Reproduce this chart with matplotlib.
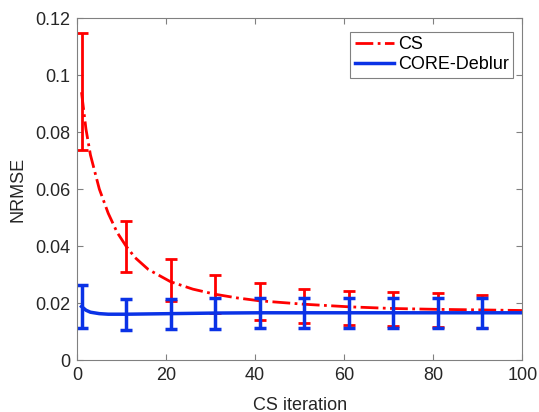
import numpy as np
import matplotlib
matplotlib.use("Agg")
import matplotlib.pyplot as plt

plt.rcParams['font.family'] = ['Liberation Sans', 'DejaVu Sans']

# CS curve
cs_iter = [1, 2, 3, 5, 7, 9, 11, 13, 16, 21, 26, 31, 36, 41, 51, 61, 71, 81, 91, 100]
cs_nrmse = [0.094, 0.081, 0.072, 0.060, 0.0515, 0.0448, 0.040, 0.036, 0.0318, 0.0275,
            0.0249, 0.0231, 0.0218, 0.0208, 0.0196, 0.0187, 0.0181, 0.0178, 0.0176, 0.0174]

# CORE-Deblur curve
core_iter = [1, 2, 3, 5, 7, 11, 21, 31, 41, 51, 61, 71, 81, 91, 100]
core_nrmse = [0.0188, 0.0175, 0.0168, 0.0163, 0.0161, 0.0161, 0.0163, 0.0165, 0.0166,
              0.0166, 0.0166, 0.0166, 0.0166, 0.0166, 0.0166]

# error bars at every 10th iteration
err_iter = [1, 11, 21, 31, 41, 51, 61, 71, 81, 91]
cs_mid = [0.094, 0.040, 0.0275, 0.0231, 0.0208, 0.0196, 0.0187, 0.0181, 0.0178, 0.0176]
cs_lo = [0.0737, 0.0310, 0.0206, 0.0164, 0.0140, 0.0131, 0.0123, 0.0119, 0.0117, 0.0113]
cs_hi = [0.1149, 0.0488, 0.0353, 0.0298, 0.0270, 0.0251, 0.0243, 0.0239, 0.0234, 0.0230]
core_mid = [0.0188, 0.0161, 0.0163, 0.0165, 0.0166, 0.0166, 0.0166, 0.0166, 0.0166, 0.0166]
core_lo = [0.0112, 0.0106, 0.0108, 0.0110, 0.0111, 0.0111, 0.0111, 0.0111, 0.0111, 0.0111]
core_hi = [0.0262, 0.0214, 0.0215, 0.0217, 0.0219, 0.0219, 0.0219, 0.0219, 0.0219, 0.0219]

fig = plt.figure(figsize=(5.39, 4.12), dpi=100)
ax = fig.add_axes([0.143, 0.126, 0.826, 0.830])

red = '#ff0000'
blue = '#0a32e6'

cs_mid = np.array(cs_mid)
core_mid = np.array(core_mid)
ax.errorbar(err_iter, cs_mid, yerr=[cs_mid - np.array(cs_lo), np.array(cs_hi) - cs_mid],
            fmt='none', ecolor=red, elinewidth=2, capsize=4, capthick=2)
ax.plot(cs_iter, cs_nrmse, color=red, linestyle='-.', lw=2, label='CS')
ax.errorbar(err_iter, core_mid, yerr=[core_mid - np.array(core_lo), np.array(core_hi) - core_mid],
            fmt='none', ecolor=blue, elinewidth=2.5, capsize=4, capthick=2.5)
ax.plot(core_iter, core_nrmse, color=blue, lw=2.5, label='CORE-Deblur')

ax.set_xlim(0, 100)
ax.set_ylim(0, 0.12)
ax.set_xticks([0, 20, 40, 60, 80, 100])
ax.set_yticks([0, 0.02, 0.04, 0.06, 0.08, 0.1, 0.12])
ax.set_yticklabels(['0', '0.02', '0.04', '0.06', '0.08', '0.1', '0.12'])
ax.tick_params(direction='in', top=True, right=True, labelsize=13, colors='#808080',
               labelcolor='#262626', length=4, width=0.8, pad=5)
for s in ax.spines.values():
    s.set_color('#808080')
    s.set_linewidth(0.8)

ax.set_xlabel('CS iteration', fontsize=13, color='#262626', labelpad=9)
ax.set_ylabel('NRMSE', fontsize=13, color='#262626', labelpad=6)

leg = ax.legend(loc='upper right', fontsize=13, fancybox=False, edgecolor='#808080',
                framealpha=1, handlelength=2.2, borderpad=0.25, labelspacing=0.15,
                handletextpad=0.2, borderaxespad=0, bbox_to_anchor=(0.98, 0.96))
leg.get_frame().set_linewidth(0.8)

fig.savefig('out.png', dpi=100)
